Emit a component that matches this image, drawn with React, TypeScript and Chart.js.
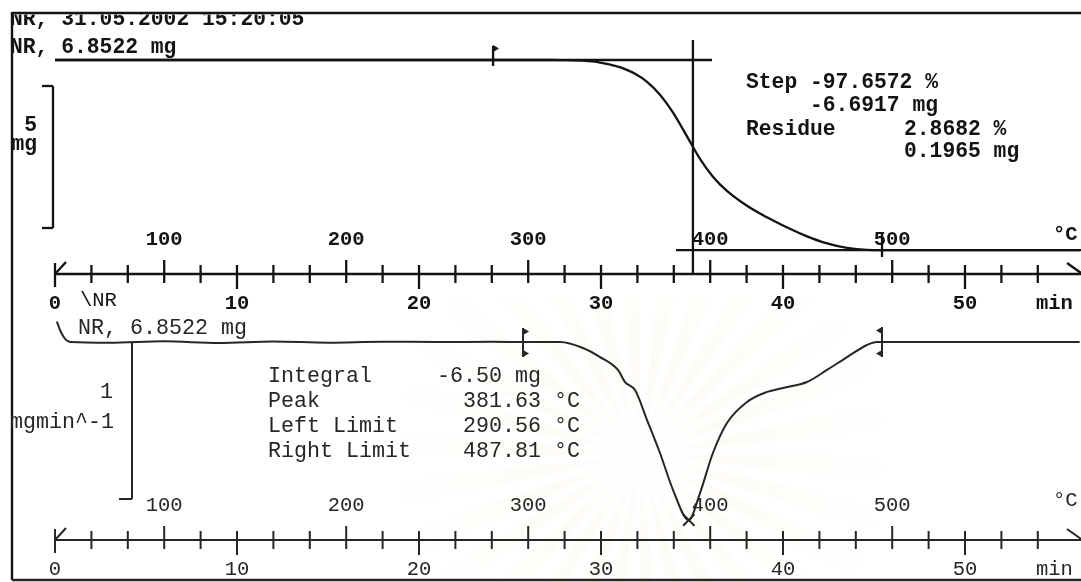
import React, { useEffect, useRef } from "react";
import { Chart, registerables } from "chart.js";

Chart.register(...registerables);

// ---- Run header -------------------------------------------------------------
const RUN_STAMP = "NR, 31.05.2002 15:20:05";
const SAMPLE_LABEL = "NR, 6.8522 mg";
const CURVE_TAG = "\\NR";
const SAMPLE_MASS_MG = 6.8522;

// Heating programme (10 K/min from 40 °C); the sample lags the furnace a little
const HEATING_RATE = 10;
const START_TEMP_C = 40;
const SAMPLE_LAG_C = 6.6;

// Axis labels
const TIME_LABELS = [0, 10, 20, 30, 40, 50];
const TEMP_LABELS = [100, 200, 300, 400, 500];
const TIME_TICK_STEP = 2;
const TIME_TICK_LAST = 54;

// ---- TGA: sample mass (mg) against time (min) ------------------------------
const TGA_TIME = [0, 10, 20, 26, 28.0, 29.0, 29.95, 30.93, 31.32, 31.87, 32.53, 33.24, 33.96, 34.78, 35.44, 36.15, 36.92, 38.02, 39.12, 40.0, 41.32, 42.42, 43.52, 44.62, 45.4, 50, 56.3];
const TGA_MASS = [6.8522, 6.8522, 6.8521, 6.852, 6.851, 6.827, 6.76, 6.618, 6.529, 6.366, 6.085, 5.632, 5.003, 4.102, 3.369, 2.742, 2.243, 1.72, 1.312, 1.027, 0.644, 0.392, 0.233, 0.167, 0.161, 0.1605, 0.1605];

// ---- DTG: mass-loss rate (mg/min) against time (min) -----------------------
const DTG_TIME = [0.1, 0.3, 0.55, 0.85, 3, 6, 9, 12, 15, 18, 21, 24, 26, 27.75, 29.01, 29.95, 30.93, 31.32, 31.87, 32.53, 33.24, 33.96, 34.82, 35.44, 36.15, 36.92, 38.02, 39.12, 40.0, 41.32, 42.42, 43.52, 44.62, 45.16, 48, 52, 56.3];
const DTG_RATE = [0.13, 0.07, 0.02, 0, -0.005, 0.004, -0.006, 0.003, -0.004, 0.002, 0, 0.001, 0, 0, -0.038, -0.096, -0.178, -0.255, -0.306, -0.497, -0.707, -0.943, -1.134, -0.962, -0.707, -0.516, -0.382, -0.318, -0.293, -0.255, -0.178, -0.096, -0.019, 0, 0, 0, 0];

// ---- Step evaluation (TGA) --------------------------------------------------
const STEP_PERCENT = -97.6572;
const STEP_MG = -6.6917;
const RESIDUE_PERCENT = 2.8682;
const RESIDUE_MG = 0.1965;
const STEP_LEFT_MIN = 24.07;
const STEP_INFLECTION_MIN = 35.05;
const STEP_TANGENT_END_MIN = 36.1;
const RESIDUE_TANGENT_START_MIN = 34.12;

// ---- Peak evaluation (DTG) --------------------------------------------------
const INTEGRAL_MG = -6.5;
const PEAK_C = 381.63;
const LEFT_LIMIT_C = 290.56;
const RIGHT_LIMIT_C = 487.81;
const PEAK_RATE = -1.134;

// Scale bars
const MASS_BAR_MG = 5;
const RATE_BAR = 1;

// ---- Page geometry ----------------------------------------------------------
const W = 1081;
const H = 582;
const X0_PX = 55;
const PX_PER_MIN = 18.2;
const TGA_TOP_PX = 60;
const PX_PER_MG = 28.4;
const DTG_ZERO_PX = 342;
const PX_PER_RATE = 157;
const TOP_AXIS_Y = 274;
const BOTTOM_AXIS_Y = 540;

const X_MIN = -X0_PX / PX_PER_MIN;
const X_MAX = X_MIN + W / PX_PER_MIN;
const YT_MAX = SAMPLE_MASS_MG + TGA_TOP_PX / PX_PER_MG;
const YT_MIN = YT_MAX - H / PX_PER_MG;
const YD_MAX = DTG_ZERO_PX / PX_PER_RATE;
const YD_MIN = YD_MAX - H / PX_PER_RATE;

const MONO = '"Liberation Mono", "DejaVu Sans Mono", monospace';
const INK_TOP = "#131313";
const INK_BOTTOM = "#262626";

const programTime = (tempC: number) => (tempC - START_TEMP_C) / HEATING_RATE;
const sampleTime = (tempC: number) => (tempC + SAMPLE_LAG_C - START_TEMP_C) / HEATING_RATE;

const tgaPoints = TGA_TIME.map((t, i) => ({ x: t, y: TGA_MASS[i] }));
const dtgPoints = DTG_TIME.map((t, i) => ({ x: t, y: DTG_RATE[i] }));
const peakPoint = [{ x: sampleTime(PEAK_C), y: PEAK_RATE }];

function seg(ctx: CanvasRenderingContext2D, x1: number, y1: number, x2: number, y2: number) {
  ctx.beginPath();
  ctx.moveTo(x1, y1);
  ctx.lineTo(x2, y2);
  ctx.stroke();
}

function txt(
  ctx: CanvasRenderingContext2D,
  s: string,
  x: number,
  y: number,
  font: string,
  color: string,
  align: CanvasTextAlign = "left"
) {
  ctx.font = font;
  ctx.fillStyle = color;
  ctx.textAlign = align;
  ctx.textBaseline = "alphabetic";
  ctx.fillText(s, x, y);
}

function flag(ctx: CanvasRenderingContext2D, x: number, y: number, dir: number) {
  ctx.beginPath();
  ctx.moveTo(x, y);
  ctx.lineTo(x + 6 * dir, y + 3.5);
  ctx.lineTo(x, y + 7);
  ctx.closePath();
  ctx.fill();
}

function drawTimeAxis(
  ctx: CanvasRenderingContext2D,
  px: (t: number) => number,
  y: number,
  font: string,
  color: string,
  lw: number
) {
  const x0 = px(0);
  ctx.strokeStyle = color;
  ctx.lineWidth = lw;
  seg(ctx, x0, y, W, y);
  seg(ctx, x0, y - 11, x0, y + 13);
  seg(ctx, x0, y, x0 + 11, y - 12);
  seg(ctx, W - 14, y - 11, W, y - 1);
  const tempTimes = TEMP_LABELS.map(programTime);
  for (let t = TIME_TICK_STEP; t <= TIME_TICK_LAST; t += TIME_TICK_STEP) {
    const x = px(t);
    const up = tempTimes.some((tt) => Math.abs(tt - t) < 0.01) ? 14 : 9;
    const down = t % 10 === 0 ? 15 : 9;
    seg(ctx, x, y - up, x, y + down);
  }
  TIME_LABELS.forEach((t) => txt(ctx, String(t), px(t), y + 35, font, color, "center"));
  TEMP_LABELS.forEach((T) => txt(ctx, String(T), px(programTime(T)), y - 29, font, color, "center"));
  txt(ctx, "°C", 1053, y - 34, font, color);
  txt(ctx, "min", 1036, y + 35, font, color);
}

const printout = {
  id: "printout",
  beforeDatasetsDraw(chart: any) {
    const ctx: CanvasRenderingContext2D = chart.ctx;
    // faint seal printed on the paper behind the DTG panel
    ctx.save();
    ctx.beginPath();
    ctx.rect(0, 296, W, H - 296);
    ctx.clip();
    const cx = 640;
    const cy = 455;
    const r = 250;
    const g = ctx.createRadialGradient(cx, cy, 10, cx, cy, r);
    g.addColorStop(0, "rgba(244,234,200,0.03)");
    g.addColorStop(0.3, "rgba(244,232,192,0.17)");
    g.addColorStop(1, "rgba(244,232,192,0)");
    ctx.fillStyle = g;
    const n = 30;
    for (let i = 0; i < n; i++) {
      const a0 = (i / n) * Math.PI * 2;
      const a1 = a0 + Math.PI / n;
      ctx.beginPath();
      ctx.moveTo(cx, cy);
      ctx.arc(cx, cy, r, a0, a1);
      ctx.closePath();
      ctx.fill();
    }
    ctx.restore();
  },
  afterDatasetsDraw(chart: any) {
    const ctx: CanvasRenderingContext2D = chart.ctx;
    const xs = chart.scales.x;
    const yT = chart.scales.yT;
    const yD = chart.scales.yD;
    const px = (t: number) => xs.getPixelForValue(t);
    const topFont = `bold 21.33px ${MONO}`;
    const botFont = `21.67px ${MONO}`;
    const topAxisFont = `bold 20.5px ${MONO}`;
    const botAxisFont = `20.5px ${MONO}`;

    ctx.save();
    ctx.lineCap = "butt";

    // frame
    ctx.strokeStyle = INK_TOP;
    ctx.lineWidth = 2.4;
    seg(ctx, 12, 13, W, 13);
    seg(ctx, 12, 12, 12, 580);
    ctx.strokeStyle = INK_BOTTOM;
    seg(ctx, 12, 580, W, 580);

    // header, trimmed by the frame
    ctx.save();
    ctx.beginPath();
    ctx.rect(0, 14.5, W, H);
    ctx.clip();
    txt(ctx, RUN_STAMP, 10, 25, topFont, INK_TOP);
    ctx.restore();
    txt(ctx, SAMPLE_LABEL, 10, 53, topFont, INK_TOP);

    // ---- TGA panel ----
    const massY = yT.getPixelForValue(SAMPLE_MASS_MG);
    const residueMass = SAMPLE_MASS_MG + STEP_MG;
    const residueY = yT.getPixelForValue(residueMass);
    ctx.strokeStyle = INK_TOP;
    ctx.fillStyle = INK_TOP;
    ctx.lineWidth = 2.3;
    // tangents and inflection
    seg(ctx, px(0), massY, px(STEP_TANGENT_END_MIN), massY);
    seg(ctx, px(RESIDUE_TANGENT_START_MIN), residueY, W, residueY);
    seg(ctx, px(STEP_INFLECTION_MIN), 40, px(STEP_INFLECTION_MIN), TOP_AXIS_Y);
    // step limits
    const sl = px(STEP_LEFT_MIN);
    seg(ctx, sl, massY - 14, sl, massY + 6);
    flag(ctx, sl, massY - 15, 1);
    const sr = px(sampleTime(RIGHT_LIMIT_C));
    seg(ctx, sr, residueY - 18, sr, residueY + 7);

    // mass scale bar
    const barTop = 86;
    const barBottom = barTop + (yT.getPixelForValue(0) - yT.getPixelForValue(MASS_BAR_MG));
    ctx.lineWidth = 2.3;
    seg(ctx, 53, barTop, 53, barBottom);
    seg(ctx, 42, barTop, 53, barTop);
    seg(ctx, 42, barBottom, 53, barBottom);
    txt(ctx, String(MASS_BAR_MG), 37, 131, topFont, INK_TOP, "right");
    txt(ctx, "mg", 37, 150, topFont, INK_TOP, "right");

    // step results
    txt(ctx, `Step ${STEP_PERCENT.toFixed(4)} %`, 746, 88, topFont, INK_TOP);
    txt(ctx, `${STEP_MG.toFixed(4)} mg`, 810, 111, topFont, INK_TOP);
    txt(ctx, "Residue", 746, 135, topFont, INK_TOP);
    txt(ctx, `${RESIDUE_PERCENT.toFixed(4)} %`, 904, 135, topFont, INK_TOP);
    txt(ctx, `${RESIDUE_MG.toFixed(4)} mg`, 904, 157, topFont, INK_TOP);

    drawTimeAxis(ctx, px, TOP_AXIS_Y, topAxisFont, INK_TOP, 2.3);
    txt(ctx, CURVE_TAG, 80, 306, botAxisFont, INK_TOP);

    // ---- DTG panel ----
    txt(ctx, SAMPLE_LABEL, 78, 334, botFont, INK_BOTTOM);
    const zeroY = yD.getPixelForValue(0);
    ctx.strokeStyle = INK_BOTTOM;
    ctx.fillStyle = INK_BOTTOM;
    ctx.lineWidth = 2;
    // rate scale bar
    const rateBottom = yD.getPixelForValue(-RATE_BAR);
    seg(ctx, 132, zeroY, 132, rateBottom);
    seg(ctx, 119, rateBottom, 132, rateBottom);
    txt(ctx, String(RATE_BAR), 113, 398, botFont, INK_BOTTOM, "right");
    txt(ctx, "mgmin^-1", 114, 428, botFont, INK_BOTTOM, "right");

    // peak limits
    const ll = px(sampleTime(LEFT_LIMIT_C));
    seg(ctx, ll, zeroY - 14, ll, zeroY + 15);
    flag(ctx, ll, zeroY - 14, 1);
    flag(ctx, ll, zeroY + 8, 1);
    const rl = px(sampleTime(RIGHT_LIMIT_C));
    seg(ctx, rl, zeroY - 15, rl, zeroY + 15);
    flag(ctx, rl, zeroY - 15, -1);
    flag(ctx, rl, zeroY + 8, -1);

    // peak results
    const bx = 268;
    const rows = [382, 407, 432, 457];
    txt(ctx, "Integral", bx, rows[0], botFont, INK_BOTTOM);
    txt(ctx, `${INTEGRAL_MG.toFixed(2)} mg`, bx + 13 * 13, rows[0], botFont, INK_BOTTOM);
    txt(ctx, "Peak", bx, rows[1], botFont, INK_BOTTOM);
    txt(ctx, `${PEAK_C.toFixed(2)} °C`, bx + 15 * 13, rows[1], botFont, INK_BOTTOM);
    txt(ctx, "Left Limit", bx, rows[2], botFont, INK_BOTTOM);
    txt(ctx, `${LEFT_LIMIT_C.toFixed(2)} °C`, bx + 15 * 13, rows[2], botFont, INK_BOTTOM);
    txt(ctx, "Right Limit", bx, rows[3], botFont, INK_BOTTOM);
    txt(ctx, `${RIGHT_LIMIT_C.toFixed(2)} °C`, bx + 15 * 13, rows[3], botFont, INK_BOTTOM);

    drawTimeAxis(ctx, px, BOTTOM_AXIS_Y, botAxisFont, INK_BOTTOM, 2);

    ctx.restore();
  },
};

export default function App() {
  const ref = useRef<HTMLCanvasElement>(null);

  useEffect(() => {
    document.body.style.margin = "0";
    const canvas = ref.current;
    if (!canvas) return;
    const chart = new Chart(canvas, {
      type: "line",
      data: {
        datasets: [
          {
            label: "TGA",
            data: tgaPoints,
            yAxisID: "yT",
            borderColor: INK_TOP,
            borderWidth: 2.3,
            pointRadius: 0,
            cubicInterpolationMode: "monotone",
            fill: false,
          },
          {
            label: "DTG",
            data: dtgPoints,
            yAxisID: "yD",
            borderColor: INK_BOTTOM,
            borderWidth: 2,
            pointRadius: 0,
            cubicInterpolationMode: "monotone",
            fill: false,
          },
          {
            label: "Peak",
            data: peakPoint,
            yAxisID: "yD",
            showLine: false,
            pointStyle: "crossRot",
            pointRadius: 8,
            pointBorderWidth: 2,
            pointBorderColor: INK_BOTTOM,
            borderColor: INK_BOTTOM,
          },
        ],
      },
      options: {
        animation: false,
        responsive: false,
        devicePixelRatio: 1,
        events: [],
        layout: { padding: 0, autoPadding: false },
        plugins: { legend: { display: false }, tooltip: { enabled: false } },
        scales: {
          x: { type: "linear", display: false, min: X_MIN, max: X_MAX },
          yT: { type: "linear", display: false, min: YT_MIN, max: YT_MAX },
          yD: { type: "linear", display: false, min: YD_MIN, max: YD_MAX },
        },
      },
      plugins: [printout],
    } as any);
    return () => chart.destroy();
  }, []);

  return (
    <canvas
      ref={ref}
      width={W}
      height={H}
      style={{ display: "block", width: W, height: H }}
    />
  );
}
